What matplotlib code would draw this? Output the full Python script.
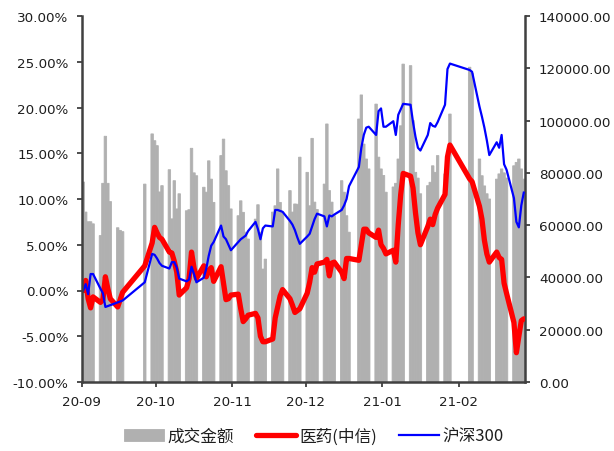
import matplotlib
matplotlib.use('Agg')
import matplotlib.pyplot as plt
import matplotlib.dates as mdates
import matplotlib.ticker as mticker
from matplotlib.font_manager import FontProperties
import pandas as pd

plt.rcParams['font.family'] = ['DejaVu Sans']

# 交易日（剔除国庆、元旦、春节休市）
holidays = ['2020-10-01', '2020-10-02', '2020-10-05', '2020-10-06', '2020-10-07',
            '2020-10-08', '2021-01-01', '2021-02-11', '2021-02-12', '2021-02-15',
            '2021-02-16', '2021-02-17']
dates = pd.bdate_range('2020-09-14', '2021-03-12')
dates = dates[~dates.isin(pd.to_datetime(holidays))]

# 成交金额（亿元）
turnover = [
    76500, 65000, 61300, 61300, 60500, 56000, 76000, 94000, 76000, 69000, 59000, 58000, 57500,
    75700, 94900, 92300, 90400, 72700, 75100, 81200, 62400, 77000, 66200, 72000, 65500, 65900,
    89400, 80000, 78900,
    74500, 72600, 84600, 77600, 68700, 86600, 92900, 80800, 75100, 66200, 63600, 69300, 64900,
    57300, 54700, 62300, 67800, 57300, 43200, 47000, 65000,
    67400, 81500, 68700, 65000, 73200, 65000, 68100, 68000, 86000, 80200, 67400, 93200, 68800,
    66000, 75700, 98700, 73200, 68800, 63600, 77000, 72600, 63600, 57300,
    100600, 109800, 91000, 85300, 81500, 106300, 86000, 81500, 79000, 72600, 74600, 76000,
    85300, 98000, 121600, 121000, 100000, 80200, 78000, 72000,
    75100, 76400, 82700, 80200, 86600, 79600, 85300, 102500, 120400, 118000, 85300, 78900,
    75000, 72000, 70000,
    77600, 79600, 81500, 80000, 78000, 82700, 84000, 85300, 81500, 77600,
]

# 医药(中信) 区间涨跌幅 %
pharma = [
    0.0, 1.1, -0.9, -1.9, -0.7, -1.3, -1.0, 1.5, 0.2, -0.9, -1.8, -1.0, -0.2,
    2.7, 5.2, 6.9, 6.3, 5.8, 5.6, 4.2, 4.1, 3.2, 2.0, -0.5, 0.3, 1.3, 4.2, 2.5, 1.3,
    2.7, 1.5, 2.2, 2.5, 1.0, 2.6, 0.8, -1.0, -0.9, -0.5, -0.4, -2.0, -3.4, -3.1, -2.7,
    -2.5, -3.0, -5.0, -5.6, -5.6, -5.3,
    -3.0, -1.8, -0.6, 0.1, -0.9, -1.6, -2.4, -2.2, -2.0, -0.3, 0.9, 2.5, 2.0, 2.9,
    3.1, 3.4, 1.6, 3.0, 3.1, 2.0, 1.3, 3.5, 3.5,
    3.3, 5.0, 6.7, 6.7, 6.3, 5.8, 6.6, 5.0, 4.6, 4.0, 4.4, 3.1, 7.2, 10.5, 12.8,
    12.5, 11.2, 8.5, 6.3, 5.0,
    7.0, 7.8, 7.2, 8.3, 9.0, 10.5, 14.6, 15.9, 12.2, 11.9, 9.2, 7.8, 5.5, 4.0, 3.1,
    4.2, 3.6, 3.4, 0.8, -0.3, -3.5, -6.8, -5.0, -3.3, -3.1,
]

# 沪深300 区间涨跌幅 %
hs300 = [
    0.0, 0.7, -0.4, 1.8, 1.8, 0.2, -0.3, -1.8, -1.7, -1.6, -1.3, -1.2, -1.1,
    0.9, 4.0, 3.9, 3.5, 3.0, 2.7, 2.4, 3.1, 3.1, 2.5, 1.3, 1.0, 1.2, 2.6, 1.8, 0.9,
    1.4, 2.4, 3.8, 4.9, 5.3, 7.1, 5.9, 5.6, 5.0, 4.4, 5.3, 5.6, 5.8, 6.0, 6.5,
    7.5, 6.7, 5.6, 6.8, 7.1, 7.0,
    8.8, 8.8, 8.7, 8.6, 7.6, 7.2, 6.6, 5.8, 5.1, 5.9, 6.2, 7.0, 7.8, 8.4,
    8.1, 7.0, 8.2, 8.1, 8.3, 8.8, 9.3, 10.0, 11.4,
    13.5, 15.6, 17.0, 17.8, 17.9, 17.0, 19.6, 19.9, 17.9, 17.9, 18.5, 17.0, 19.2, 19.8,
    20.4, 20.3, 18.4, 16.8, 15.6, 15.3,
    17.0, 18.3, 18.0, 17.9, 18.4, 20.3, 24.2, 24.8, 24.1, 23.9, 20.1, 19.0, 17.8, 16.4, 14.8,
    16.2, 15.6, 17.0, 13.8, 13.2, 10.1, 7.5, 6.9, 9.3, 10.7,
]

tick_dates = ['2020-09-14', '2020-10-14', '2020-11-14', '2020-12-14',
              '2021-01-14', '2021-02-14']

axis_col = '#404040'
text_col = '#1e1e1e'
bar_col = '#b0b0b0'

fig = plt.figure(figsize=(6.14, 4.52), dpi=100)
ax = fig.add_axes([82 / 614, 69 / 452, 443 / 614, 366 / 452])
ax2 = ax.twinx()

x = mdates.date2num(dates) + 0.5
# 不做像素对齐，连续交易日的柱子之间不留白缝
ax2.bar(x, turnover, width=1.0, color=bar_col, edgecolor=bar_col,
        linewidth=0.6, snap=False, label='成交金额')
ax.plot(x, pharma, color='#ff0000', lw=3.8, solid_joinstyle='round',
        solid_capstyle='round', label='医药(中信)')
ax.plot(x, hs300, color='#0000ff', lw=1.6, label='沪深300')

# 折线放在柱子上面
ax.set_zorder(ax2.get_zorder() + 1)
ax.patch.set_visible(False)

ax.set_xlim(mdates.datestr2num('2020-09-14'), mdates.datestr2num('2021-03-13'))
ax.set_xticks(mdates.datestr2num(tick_dates))
ax.xaxis.set_major_formatter(mdates.DateFormatter('%y-%m'))

ax.set_ylim(-10, 30)
ax.set_yticks(range(-10, 31, 5))
ax.yaxis.set_major_formatter(mticker.FuncFormatter(lambda v, p: f'{v:.2f}%'))

ax2.set_ylim(0, 140000)
ax2.set_yticks(range(0, 140001, 20000))
ax2.yaxis.set_major_formatter(mticker.FuncFormatter(lambda v, p: f'{v:.2f}'))

for a in (ax, ax2):
    a.spines['top'].set_visible(False)
    for s in a.spines.values():
        s.set_color(axis_col)
        s.set_linewidth(1.8)
ax.spines['right'].set_visible(False)
ax2.spines['left'].set_visible(False)
ax2.spines['bottom'].set_visible(False)

ax.tick_params(axis='both', direction='out', length=3.6, width=1.3, color=axis_col,
               labelsize=9.7, labelcolor=text_col)
ax.tick_params(axis='y', pad=6)
ax.tick_params(axis='x', pad=6)
ax2.tick_params(axis='y', direction='out', length=3.6, width=1.3, color=axis_col,
                labelsize=9.7, labelcolor=text_col, pad=6.5)

h1, l1 = ax2.get_legend_handles_labels()
h2, l2 = ax.get_legend_handles_labels()
fig.legend(h1 + h2, l1 + l2, loc='center', bbox_to_anchor=(0.511, 0.033), ncol=3,
           frameon=False, handlelength=2.4, handletextpad=0.2, columnspacing=1.3,
           prop=FontProperties(family=['Noto Sans CJK SC', 'DejaVu Sans'], size=12))
for t in fig.legends[0].get_texts():
    t.set_color(text_col)

fig.savefig('out.png', dpi=100)
